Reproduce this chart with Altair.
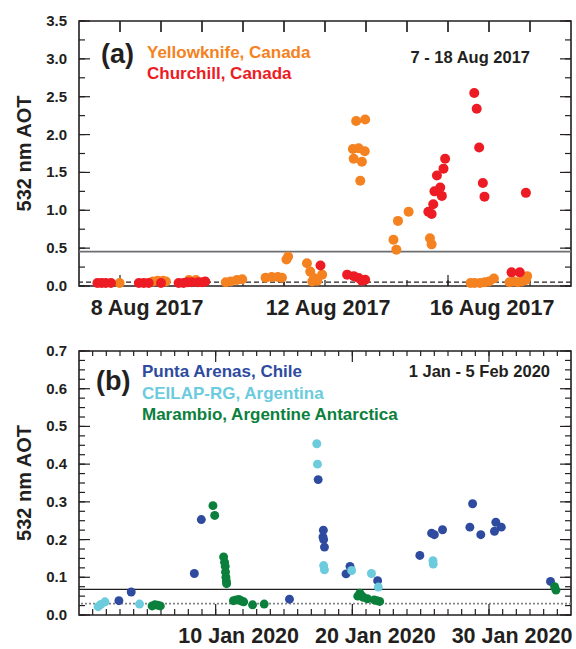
import altair as alt
import pandas as pd

FONT = "Liberation Sans"
INK = "#231f20"

# ---- (a) 7-18 Aug 2017: x = day of August (decimal), y = 532 nm AOT ----
yellowknife_day = [7.99, 8.80, 8.92, 9.05, 9.12, 9.68, 9.85, 10.58, 10.70, 10.85, 10.98,
                   11.55, 11.70, 11.85, 11.95, 12.06, 12.10,
                   12.56, 12.64, 12.69, 12.73, 12.81, 12.93,
                   13.68, 13.70, 13.76, 13.82, 13.86, 13.90, 13.97, 13.98,
                   14.67, 14.74, 14.78, 15.04, 15.56, 15.60,
                   16.55, 16.65, 16.78, 16.90, 17.00, 17.12,
                   17.50, 17.60, 17.70, 17.80, 17.90, 17.93]
yellowknife_aot = [0.04, 0.06, 0.07, 0.07, 0.06, 0.08, 0.08, 0.05, 0.06, 0.08, 0.09,
                   0.11, 0.12, 0.12, 0.11, 0.35, 0.39,
                   0.30, 0.19, 0.06, 0.105, 0.07, 0.15,
                   1.81, 1.68, 2.18, 1.82, 1.39, 1.64, 1.78, 2.20,
                   0.61, 0.48, 0.86, 0.98, 0.63, 0.55,
                   0.04, 0.04, 0.04, 0.05, 0.06, 0.10,
                   0.05, 0.06, 0.05, 0.06, 0.08, 0.13]

churchill_day = [7.45, 7.55, 7.65, 7.78, 8.46, 8.58, 8.70, 9.00,
                 9.43, 9.55, 9.65, 9.75, 9.90, 10.00, 10.08,
                 12.89, 13.54, 13.70, 13.82, 13.90, 13.98,
                 15.52, 15.60, 15.64, 15.67, 15.73, 15.81, 15.85, 15.89, 15.93,
                 16.64, 16.70, 16.76, 16.85, 16.89, 17.55, 17.75, 17.90]
churchill_aot = [0.04, 0.04, 0.04, 0.04, 0.04, 0.04, 0.04, 0.04,
                 0.04, 0.04, 0.05, 0.05, 0.05, 0.05, 0.06,
                 0.27, 0.15, 0.13, 0.105, 0.07, 0.083,
                 0.98, 0.95, 1.08, 1.25, 1.46, 1.30, 1.19, 1.55, 1.68,
                 2.55, 2.34, 1.83, 1.36, 1.18, 0.18, 0.18, 1.23]

# ---- (b) 1 Jan - 5 Feb 2020: x = day of year 2020 (decimal) ----
punta_day = [2.92, 3.82, 8.44, 8.95, 15.40, 17.50, 17.85, 17.88, 17.90, 17.96,
             19.54, 19.83, 21.85, 24.94, 25.80, 26.00, 26.60,
             28.60, 28.80, 29.40, 30.40, 30.50, 30.90, 34.50]
punta_aot = [0.038, 0.061, 0.110, 0.253, 0.042, 0.359, 0.207, 0.225, 0.200, 0.180,
             0.109, 0.129, 0.091, 0.158, 0.217, 0.213, 0.226,
             0.233, 0.295, 0.213, 0.222, 0.246, 0.233, 0.089]

ceilap_day = [1.40, 1.60, 1.90, 4.43, 17.40, 17.45, 17.90, 17.96, 19.95, 21.40, 21.90, 25.90, 25.92]
ceilap_aot = [0.022, 0.028, 0.035, 0.029, 0.454, 0.400, 0.131, 0.120, 0.118, 0.110, 0.074, 0.144, 0.135]

marambio_day = [5.35, 5.55, 5.75, 5.95, 9.80, 9.93,
                10.58, 10.65, 10.70, 10.72, 10.75, 10.78, 10.80,
                11.30, 11.50, 11.70, 11.90, 12.05, 12.70, 13.55,
                20.40, 20.55, 20.65, 20.80, 21.10, 21.60, 21.80, 22.00,
                34.80, 34.90]
marambio_aot = [0.024, 0.027, 0.026, 0.024, 0.290, 0.264,
                0.154, 0.140, 0.129, 0.114, 0.100, 0.090, 0.083,
                0.038, 0.040, 0.041, 0.037, 0.035, 0.027, 0.029,
                0.050, 0.058, 0.052, 0.047, 0.043, 0.040, 0.038, 0.036,
                0.075, 0.066]

# reference levels
levels_a_solid = [0.455]
levels_a_dashed = [0.05]
levels_b_solid = [0.068]
levels_b_dotted = [0.030]

# tick positions
aug_labels = [8, 12, 16]
aug_days = list(range(8, 19))
jan_labels = [10, 20, 30]
jan_days = list(range(1, 36))
aot_major_a = [round(i * 0.5, 2) for i in range(8)]
aot_minor_a = [round(i * 0.25, 2) for i in range(15)]
aot_major_b = [round(i * 0.1, 2) for i in range(8)]
aot_minor_b = [round(i * 0.025, 3) for i in range(29)]

COLORS_A = {"Yellowknife, Canada": "#f58220", "Churchill, Canada": "#ed1c24"}
COLORS_B = {"Punta Arenas, Chile": "#2e4b9f",
            "CEILAP-RG, Argentina": "#6ccbdc",
            "Marambio, Argentine Antarctica": "#0b803c"}

MAJOR = 11   # tick lengths in pixels
MINOR = 6
PLOT_W = 492


def frame(series):
    rows = []
    for site, days, aots in series:
        rows += [{"site": site, "day": d, "aot": v} for d, v in zip(days, aots)]
    return pd.DataFrame(rows)


def text_layer(text, x, y, color, size, align="left", angle=0, baseline="alphabetic"):
    kw = dict(font=FONT, fontWeight="bold", fontSize=size, align=align,
              baseline=baseline, color=color)
    if angle:
        kw["angle"] = angle
    return alt.Chart(alt.Data(values=[{}])).mark_text(**kw).encode(
        x=alt.value(x), y=alt.value(y), text=alt.value(text))


def panel(df, colors, x_domain, y_domain, height, dot, x_labels, x_suffix, x_label_dx,
          x_label_drop, bottom_major, bottom_minor, top_major, top_minor, top_minor_len,
          y_major, y_minor, rules, texts):
    xs = alt.Scale(domain=x_domain, nice=False, zero=False)
    ys = alt.Scale(domain=y_domain, nice=False, zero=False)

    def X(field="day"):
        return alt.X(field + ":Q", scale=xs, axis=None)

    def Y(field="aot"):
        return alt.Y(field + ":Q", scale=ys, axis=None)

    points = alt.Chart(df).mark_circle(size=dot, opacity=1).encode(
        x=X(), y=Y(),
        color=alt.Color("site:N", scale=alt.Scale(domain=list(colors),
                                                  range=list(colors.values())),
                        legend=None),
    )

    def x_ticks(values, y0, y1):
        # inward tick marks along a horizontal frame edge
        return alt.Chart(pd.DataFrame({"day": values})).mark_rule(
            color=INK, strokeWidth=1.2).encode(x=X(), y=alt.value(y0), y2=alt.value(y1))

    def y_ticks(values, x0, x1):
        # inward tick marks along a vertical frame edge
        return alt.Chart(pd.DataFrame({"aot": values})).mark_rule(
            color=INK, strokeWidth=1.2).encode(y=Y(), x=alt.value(x0), x2=alt.value(x1))

    def level(values, color, width, dash=None):
        kw = dict(color=color, strokeWidth=width)
        if dash:
            kw["strokeDash"] = dash
        return alt.Chart(pd.DataFrame({"aot": values})).mark_rule(**kw).encode(y=Y())

    # tick labels and axis title drawn as text marks
    y_labels = alt.Chart(pd.DataFrame({"aot": y_major})).transform_calculate(
        label="format(datum.aot, '.1f')"
    ).mark_text(font=FONT, fontWeight="bold", fontSize=15, color=INK,
                align="right", baseline="middle").encode(
        y=Y(), x=alt.value(-12), text="label:N")

    x_label_layers = [
        alt.Chart(pd.DataFrame({"day": [v]})).transform_calculate(
            label="datum.day + '" + x_suffix + "'"
        ).mark_text(font=FONT, fontWeight="bold", fontSize=21.5, color=INK,
                    align="center", baseline="alphabetic", dx=x_label_dx(v)).encode(
            x=X(), y=alt.value(height + x_label_drop), text="label:N")
        for v in x_labels
    ]

    y_title = text_layer("532 nm AOT", -54, height / 2, INK, 20, align="center",
                         angle=270, baseline="middle")

    layers = [level(*r) for r in rules]
    layers += [
        x_ticks(bottom_minor, height, height - MINOR),
        x_ticks(bottom_major, height, height - MAJOR),
        x_ticks(top_minor, 0, top_minor_len),
        x_ticks(top_major, 0, MAJOR),
        y_ticks(y_minor, 0, MINOR),
        y_ticks(y_major, 0, MAJOR),
        y_ticks(y_minor, PLOT_W, PLOT_W - MINOR),
        y_ticks(y_major, PLOT_W, PLOT_W - MAJOR),
    ]
    layers += [points, y_labels, y_title] + x_label_layers + texts
    return alt.layer(*layers).properties(width=PLOT_W, height=height)


df_a = frame([("Yellowknife, Canada", yellowknife_day, yellowknife_aot),
              ("Churchill, Canada", churchill_day, churchill_aot)])
df_b = frame([("Punta Arenas, Chile", punta_day, punta_aot),
              ("CEILAP-RG, Argentina", ceilap_day, ceilap_aot),
              ("Marambio, Argentine Antarctica", marambio_day, marambio_aot)])

panel_a = panel(
    df_a, COLORS_A, [7, 19], [0, 3.5], 265, 100,
    aug_labels, " Aug 2017", lambda v: 27 if v == 8 else 44, 28.5,
    aug_labels, aug_days, aug_days, aug_days, MAJOR,
    aot_major_a, aot_minor_a,
    [(levels_a_solid, "#6d6e71", 1.8), (levels_a_dashed, INK, 1.2, [5, 3])],
    [text_layer("(a)", 22, 42, INK, 27),
     text_layer("Yellowknife, Canada", 68, 37, COLORS_A["Yellowknife, Canada"], 17),
     text_layer("Churchill, Canada", 68, 58, COLORS_A["Churchill, Canada"], 17),
     text_layer("7 - 18 Aug 2017", 451, 42, INK, 16.5, align="right")],
)

panel_b = panel(
    df_b, COLORS_B, [0, 36], [0, 0.7], 264, 80,
    jan_labels, " Jan 2020", lambda v: 23, 28,
    jan_labels, jan_days, jan_labels, jan_days, 5,
    aot_major_b, aot_minor_b,
    [(levels_b_solid, INK, 1.2), (levels_b_dotted, "#808285", 1.8, [2, 2])],
    [text_layer("(b)", 17, 39, INK, 27),
     text_layer("Punta Arenas, Chile", 63, 26, COLORS_B["Punta Arenas, Chile"], 17),
     text_layer("CEILAP-RG, Argentina", 63, 47.5, COLORS_B["CEILAP-RG, Argentina"], 17),
     text_layer("Marambio, Argentine Antarctica", 63, 68.5,
                COLORS_B["Marambio, Argentine Antarctica"], 17),
     text_layer("1 Jan - 5 Feb 2020", 471, 26, INK, 16.5, align="right")],
)

chart = alt.vconcat(panel_a, panel_b, spacing=65, bounds="flush").resolve_scale(
    color="independent",
).properties(
    padding={"left": 14, "top": 13, "right": 0, "bottom": 0},
    background="white",
).configure_view(stroke=INK, strokeWidth=1.6)

chart.save("out.html", embed_options={"renderer": "svg", "actions": False})
